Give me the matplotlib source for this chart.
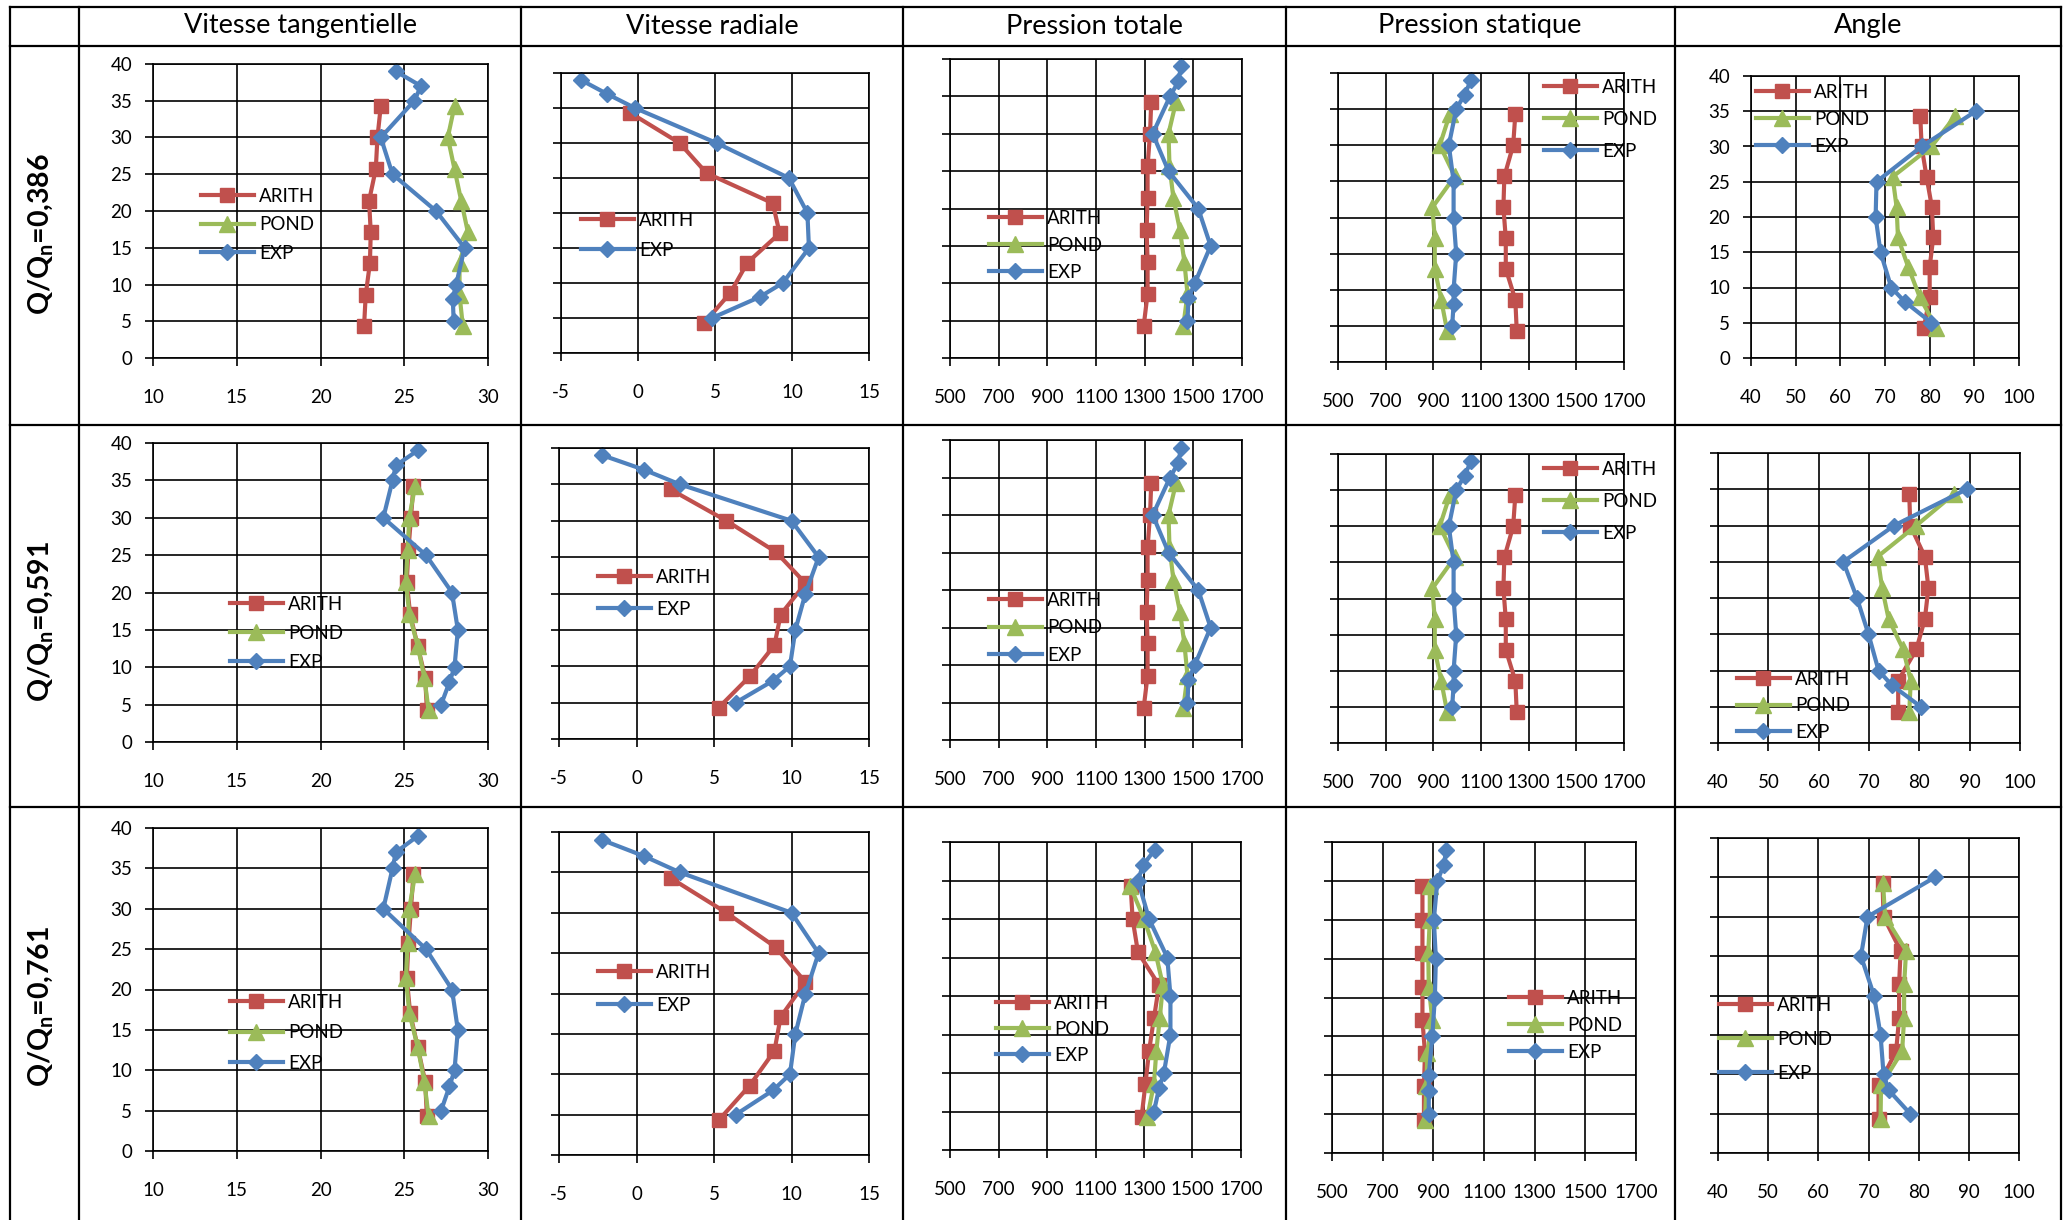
#!/usr/bin/env python
""" plot.py - profils ARITH / POND / EXP pour trois debits (tableau 3x5)
"""

import numpy as np
import matplotlib
matplotlib.use('Agg')
import matplotlib.pyplot as plt
from matplotlib.lines import Line2D

plt.rcParams['font.family'] = ['Lato', 'DejaVu Sans']
plt.rcParams['mathtext.fontset'] = 'custom'
plt.rcParams['mathtext.rm'] = 'Lato'
plt.rcParams['mathtext.bf'] = 'Lato:bold'
plt.rcParams['axes.unicode_minus'] = False

RED = '#C0504D'
GREEN = '#9BBB59'
BLUE = '#4F81BD'

# ---- data -------------------------------------------------------------
columns = ['Vitesse tangentielle', 'Vitesse radiale', 'Pression totale',
           'Pression statique', 'Angle']
row_labels = [r'Q/Q$_{\mathbf{n}}$=0,386',
              r'Q/Q$_{\mathbf{n}}$=0,591',
              r'Q/Q$_{\mathbf{n}}$=0,761']

# heights (y axis), top to bottom
z_model = [34.3, 30.0, 25.7, 21.4, 17.1, 12.9, 8.6, 4.3]
z_exp = [39, 37, 35, 30, 25, 20, 15, 10, 8, 5]
z_exp_angle = [35, 30, 25, 20, 15, 10, 8, 5]

# one list per debit (rows 0.386, 0.591, 0.761)
vt_arith = [[23.6, 23.4, 23.3, 22.9, 23.0, 22.95, 22.7, 22.6],
            [25.55, 25.4, 25.25, 25.15, 25.35, 25.8, 26.25, 26.35],
            [25.55, 25.4, 25.25, 25.15, 25.35, 25.8, 26.25, 26.35]]
vt_pond = [[28.0, 27.6, 28.0, 28.4, 28.8, 28.3, 28.3, 28.5],
           [25.65, 25.3, 25.2, 25.1, 25.3, 25.8, 26.2, 26.45],
           [25.65, 25.3, 25.2, 25.1, 25.3, 25.8, 26.2, 26.45]]
vt_exp = [[24.5, 26.0, 25.6, 23.6, 24.3, 26.9, 28.6, 28.1, 27.9, 27.95],
          [25.8, 24.5, 24.3, 23.75, 26.3, 27.85, 28.2, 28.0, 27.7, 27.2],
          [25.8, 24.5, 24.3, 23.75, 26.3, 27.85, 28.2, 28.0, 27.7, 27.2]]

vr_arith = [[-0.5, 2.7, 4.45, 8.75, 9.2, 7.1, 6.0, 4.3],
            [2.2, 5.8, 9.0, 10.9, 9.3, 8.9, 7.3, 5.3],
            [2.2, 5.8, 9.0, 10.9, 9.3, 8.9, 7.3, 5.3]]
vr_exp = [[-3.7, -2.0, -0.2, 5.1, 9.8, 11.0, 11.1, 9.4, 7.9, 4.8],
          [-2.2, 0.5, 2.8, 10.0, 11.75, 10.9, 10.25, 9.9, 8.8, 6.4],
          [-2.2, 0.5, 2.8, 10.0, 11.75, 10.9, 10.25, 9.9, 8.8, 6.4]]

pt_arith = [[1327, 1322, 1312, 1312, 1308, 1312, 1312, 1296],
            [1327, 1322, 1312, 1312, 1308, 1312, 1312, 1296],
            [1245, 1253, 1275, 1362, 1341, 1321, 1306, 1290]]
pt_pond = [[1429, 1398, 1402, 1418, 1445, 1463, 1476, 1459],
           [1429, 1398, 1402, 1418, 1445, 1463, 1476, 1459],
           [1243, 1300, 1347, 1378, 1365, 1351, 1341, 1314]]
pt_exp = [[1449, 1439, 1404, 1333, 1398, 1520, 1571, 1506, 1480, 1476],
          [1449, 1439, 1404, 1333, 1398, 1520, 1571, 1506, 1480, 1476],
          [1345, 1296, 1275, 1321, 1396, 1409, 1409, 1382, 1362, 1341]]

ps_arith = [[1244, 1235, 1198, 1194, 1204, 1204, 1244, 1250],
            [1244, 1235, 1198, 1194, 1204, 1204, 1244, 1250],
            [857, 857, 857, 857, 857, 867, 863, 863]]
ps_pond = [[969, 927, 990, 896, 906, 906, 933, 958],
           [969, 927, 990, 896, 906, 906, 933, 958],
           [886, 886, 880, 882, 896, 876, 873, 867]]
ps_exp = [[1058, 1031, 996, 965, 985, 985, 996, 985, 985, 979],
          [1058, 1031, 996, 965, 985, 985, 996, 985, 985, 979],
          [951, 941, 916, 902, 910, 906, 896, 882, 882, 882]]

an_arith = [[77.9, 78.2, 79.3, 80.5, 80.8, 80.0, 80.0, 78.7],
            [78.0, 78.2, 81.1, 81.8, 81.1, 79.4, 75.8, 75.8],
            [72.8, 73.0, 76.4, 76.1, 76.1, 75.5, 72.0, 72.0]]
an_pond = [[85.7, 80.4, 71.7, 72.6, 72.9, 75.2, 77.8, 81.5],
           [86.8, 79.4, 71.7, 72.6, 73.9, 76.8, 78.3, 78.0],
           [72.9, 73.3, 77.5, 77.1, 77.1, 76.7, 72.5, 72.4]]
an_exp = [[90.3, 78.2, 68.1, 67.9, 69.0, 71.4, 74.4, 80.4],
          [89.4, 75.0, 64.9, 67.6, 69.9, 71.9, 74.5, 80.3],
          [83.2, 69.8, 68.5, 71.1, 72.4, 73.0, 74.0, 78.3]]

x_ranges = [(10, 30, 5), (-5, 15, 5), (500, 1700, 200), (500, 1700, 200),
            (40, 100, 10)]

# ---- layout (figure pixels) ------------------------------------------
W, H = 2068, 1220

# (left, right, top, bottom) of each plot area
boxes = [
    [(153, 488, 64, 358), (561, 869, 73, 353), (950, 1242, 59, 358),
     (1338, 1624, 73, 362), (1751, 2019, 76, 358)],
    [(153, 488, 443, 742), (559, 869, 448, 739), (950, 1242, 440, 740),
     (1338, 1624, 454, 743), (1718, 2020, 453, 743)],
    [(153, 488, 828, 1151), (559, 869, 832, 1155), (950, 1241, 842, 1150),
     (1332, 1636, 842, 1153), (1718, 2019, 838, 1153)],
]
# legend: x of handle start, y of first entry, spacing between entries
legend_pos = [
    [(201, 196, 28.5), (581, 220, 30), (989, 218, 27), (1544, 87, 32),
     (1756, 92, 27)],
    [(230, 604, 29), (598, 577, 32), (989, 600, 27.5), (1544, 469, 32),
     (1737, 679, 26.5)],
    [(230, 1002, 30.5), (598, 972, 33), (996, 1003, 26), (1509, 998, 27),
     (1719, 1005, 34)],
]
show_ylabels = [[True, False, False, False, True],
                [True, False, False, False, False],
                [True, False, False, False, False]]

row_label_y = [234, 621, 1006]
col_centers = [300, 712, 1094, 1480, 1868]
h_lines = [7, 46, 425, 807]
v_lines = [10, 79, 521, 903, 1286, 1675, 2061]

LEGEND_FS = 13.5


def panel_series(row, col):
    """Return list of (label, x, z, color, marker, size) for one cell."""
    if col == 0:
        a, p, e, ze = vt_arith[row], vt_pond[row], vt_exp[row], z_exp
    elif col == 1:
        a, p, e, ze = vr_arith[row], None, vr_exp[row], z_exp
    elif col == 2:
        a, p, e, ze = pt_arith[row], pt_pond[row], pt_exp[row], z_exp
    elif col == 3:
        a, p, e, ze = ps_arith[row], ps_pond[row], ps_exp[row], z_exp
    else:
        a, p, e, ze = an_arith[row], an_pond[row], an_exp[row], z_exp_angle
    series = [('ARITH', a, z_model, RED, 's', 10.5)]
    if p is not None:
        series.append(('POND', p, z_model, GREEN, '^', 11.5))
    series.append(('EXP', e, ze, BLUE, 'D', 8.5))
    return series


def draw_panel(fig, row, col):
    left, right, top, bottom = boxes[row][col]
    ax = fig.add_axes([left / W, 1 - bottom / H, (right - left) / W,
                       (bottom - top) / H])
    lo, hi, step = x_ranges[col]

    handles = []
    for label, x, z, color, marker, size in panel_series(row, col):
        line, = ax.plot(x, z, color=color, linewidth=3.0, marker=marker,
                        markersize=size, markeredgecolor=color,
                        markerfacecolor=color, label=label, clip_on=False)
        handles.append(line)

    ax.set_xlim(lo, hi)
    ax.set_ylim(0, 40)
    ax.set_xticks(np.arange(lo, hi + step, step))
    ax.set_yticks(np.arange(0, 45, 5))
    ax.grid(True, color='black', linewidth=1.2)
    ax.set_axisbelow(True)
    for spine in ax.spines.values():
        spine.set_color('black')
        spine.set_linewidth(1.2)
    ax.tick_params(axis='both', direction='out', length=6, width=1.2,
                   colors='black', labelsize=13.5)
    ax.tick_params(axis='x', pad=16)
    ax.tick_params(axis='y', pad=9, labelleft=show_ylabels[row][col])

    lx, ly, gap = legend_pos[row][col]
    fs_px = LEGEND_FS * 100 / 72.0
    ax.legend(handles=handles, loc='upper left',
              bbox_to_anchor=(lx / W, 1 - (ly - 0.45 * fs_px) / H),
              bbox_transform=fig.transFigure, frameon=False,
              fontsize=LEGEND_FS, borderpad=0, borderaxespad=0,
              handlelength=2.8, handletextpad=0.3,
              labelspacing=(gap - 0.9 * fs_px) / fs_px)
    return ax


def draw_table(fig):
    for y in h_lines:
        fig.add_artist(Line2D([v_lines[0] / W, v_lines[-1] / W],
                              [1 - y / H, 1 - y / H], color='black',
                              linewidth=1.6, transform=fig.transFigure))
    for x in v_lines:
        fig.add_artist(Line2D([x / W, x / W], [1 - h_lines[0] / H, 0],
                              color='black', linewidth=1.6,
                              transform=fig.transFigure))
    for name, cx in zip(columns, col_centers):
        fig.text(cx / W, 1 - 26 / H, name, ha='center', va='center',
                 fontsize=19.5)
    for label, cy in zip(row_labels, row_label_y):
        fig.text(41 / W, 1 - cy / H, label, ha='center', va='center',
                 rotation=90, fontsize=20.5, fontweight='bold')


def main():
    fig = plt.figure(figsize=(W / 100, H / 100), dpi=100)
    for row in range(3):
        for col in range(5):
            draw_panel(fig, row, col)
    draw_table(fig)
    fig.savefig('out.png', dpi=100)


if __name__ == "__main__":
    main()
